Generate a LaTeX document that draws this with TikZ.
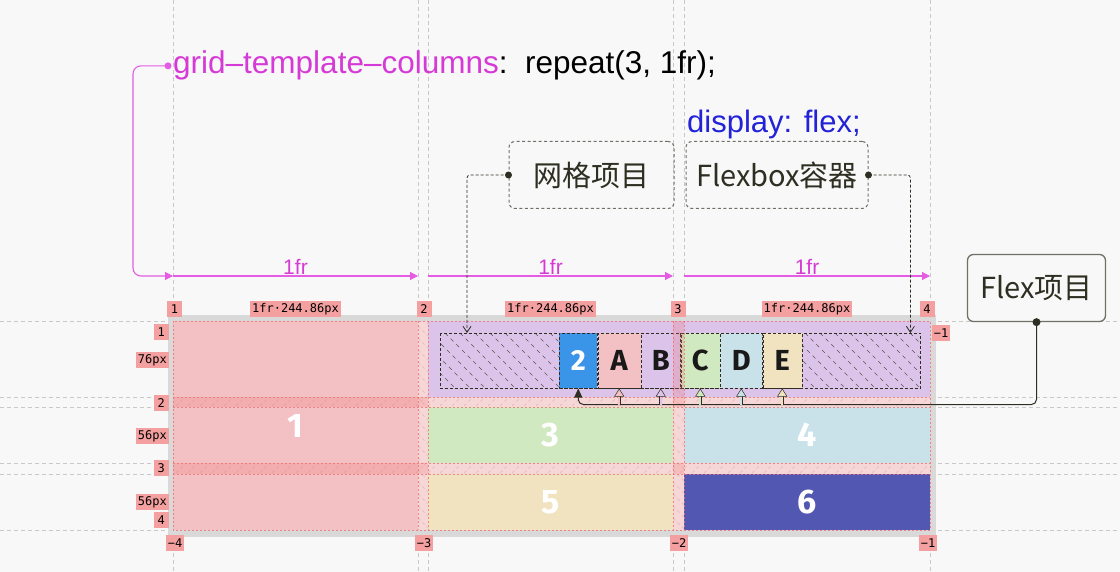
\documentclass[tikz,border=0pt]{standalone}
\usepackage{fontspec}
\usepackage{xcolor}
\usepackage{tikz}
\usetikzlibrary{arrows.meta,positioning,calc}
\setmainfont{Liberation Sans}
\newfontfamily\cjkfont{Noto Sans CJK SC}
\newfontfamily\numfont{Fira Sans}
\newfontfamily\monofont{DejaVu Sans Mono}
\definecolor{pagebg}{HTML}{F8F8F8}
\definecolor{guide}{HTML}{C8C8C8}
\definecolor{rim}{HTML}{D9D9D9}
\definecolor{itempink}{HTML}{F3C1C4}
\definecolor{itempurple}{HTML}{DCC3EA}
\definecolor{itemgreen}{HTML}{D0E9C0}
\definecolor{itemcyan}{HTML}{C9E2EA}
\definecolor{itembeige}{HTML}{F2E3C0}
\definecolor{itemindigo}{HTML}{5257B1}
\definecolor{flexblue}{HTML}{3A95E8}
\definecolor{tagpink}{HTML}{F4A0A0}
\definecolor{gapred}{HTML}{F07070}
\definecolor{propmagenta}{HTML}{D63AD6}
\definecolor{arrowmagenta}{HTML}{E35CE3}
\definecolor{cssblue}{HTML}{2222D8}
\definecolor{inkdark}{HTML}{2E2E22}
\definecolor{boxgray}{HTML}{707068}

\begin{document}
\begin{tikzpicture}[x=1pt, y=-1pt,
  guideline/.style={draw=guide, line width=0.6pt, dash pattern=on 4pt off 3pt},
  tag/.style={fill=tagpink, inner sep=2pt, minimum width=15pt, minimum height=16pt, text=black, font=\monofont\fontsize{12}{12}\selectfont},
  cell/.style={anchor=north west, inner sep=0pt, text=white, font=\numfont\bfseries\fontsize{34}{34}\selectfont},
  flexcell/.style={draw=inkdark, line width=0.5pt, densely dashed, inner sep=0pt, minimum width=#1, minimum height=55pt, text=black!90, font=\numfont\bfseries\fontsize{29}{29}\selectfont},
  flexhatch/.style={draw=inkdark!80, line width=0.6pt, dash pattern=on 4pt off 4pt},
  gapfill/.style={fill=gapred, opacity=0.24},
  gaphatch/.style={draw=gapred, line width=0.6pt, opacity=0.4, dash pattern=on 3pt off 3pt},
  gapline/.style={draw=gapred, line width=0.6pt, opacity=0.8, dash pattern=on 2pt off 2pt},
  magline/.style={draw=arrowmagenta, line width=1.1pt, -{Triangle[width=8pt,length=8pt]}},
  frlabel/.style={text=propmagenta, inner sep=1pt, font=\fontsize{21}{21}\selectfont},
  notebox/.style={draw=boxgray, line width=1pt, rounded corners=6pt, minimum height=67pt, text=inkdark, font=\cjkfont\fontsize{29}{29}\selectfont},
  dashlink/.style={draw=inkdark, line width=0.8pt, dash pattern=on 3pt off 2pt, rounded corners=3pt, -{Straight Barb[width=8pt,length=6pt]}},
  solidlink/.style={draw=inkdark, line width=1pt, rounded corners=5pt},
  pin/.style={fill=inkdark}]
  \fill[pagebg] (0,0) rectangle (1120,572);
  \useasboundingbox (0,0) rectangle (1120,572);
  \foreach \x in {173,418,428,673,684,930} \draw[guideline] (\x,0) -- (\x,572);
  \foreach \y in {321,397,407,463,474,530} \draw[guideline] (0,\y) -- (1120,\y);

  \fill[rim] (168,315) rectangle (936,537);
  \fill[pagebg] (173,321) rectangle (930,530);
  \node[cell, fill=itempink, minimum width=245pt, minimum height=209pt] (cell1) at (173,321) {1};
  \node[cell, fill=itempurple, minimum width=502pt, minimum height=76pt] (cell2) at (428,321) {};
  \node[cell, fill=itemgreen, minimum width=245pt, minimum height=56pt] (cell3) at (428,407) {3};
  \node[cell, fill=itemcyan, minimum width=246pt, minimum height=56pt] (cell4) at (684,407) {4};
  \node[cell, fill=itembeige, minimum width=245pt, minimum height=56pt] (cell5) at (428,474) {5};
  \node[cell, fill=itemindigo, minimum width=246pt, minimum height=56pt] (cell6) at (684,474) {6};

  \node[anchor=north west, inner sep=0pt, minimum width=480pt, minimum height=55pt] (fbox) at (440,333) {};
  \begin{scope}
    \clip (fbox.north west) rectangle (fbox.south east);
    \foreach \x in {370,385,...,925} \draw[flexhatch] (\x,333) -- ++(60,60);
  \end{scope}
  \draw[inkdark, line width=0.6pt, densely dashed] (fbox.north west) rectangle (fbox.south east);
  \node[flexcell=38pt, fill=flexblue, text=white, anchor=north west] (f2) at (559,333) {2};
  \node[flexcell=43pt, fill=itempink, right=0pt of f2] (fA) {A};
  \node[flexcell=39pt, fill=itempurple, right=0pt of fA] (fB) {B};
  \node[flexcell=39pt, fill=itemgreen, right=0pt of fB] (fC) {C};
  \node[flexcell=42pt, fill=itemcyan, right=0pt of fC] (fD) {D};
  \node[flexcell=39pt, fill=itembeige, right=0pt of fD] (fE) {E};

  \fill[gapfill] (418,321) rectangle (428,530);
  \fill[gapfill] (673,321) rectangle (684,530);
  \fill[gapfill] (173,397) rectangle (930,407);
  \fill[gapfill] (173,463) rectangle (930,474);
  \begin{scope}
    \clip (173,397) rectangle (930,407) (173,463) rectangle (930,474);
    \foreach \x in {160,172,...,940} {
      \draw[gaphatch] (\x,410) -- ++(14,-14);
      \draw[gaphatch] (\x,477) -- ++(14,-14);
    }
  \end{scope}
  \begin{scope}
    \clip (418,321) rectangle (428,530) (673,321) rectangle (684,530);
    \foreach \y in {310,322,...,540} {
      \draw[gaphatch] (414,\y) -- ++(16,16);
      \draw[gaphatch] (669,\y) -- ++(16,16);
    }
  \end{scope}
  \foreach \x in {418,428,673,684} \draw[gapline] (\x,321) -- (\x,530);
  \foreach \y in {397,407,463,474} \draw[gapline] (173,\y) -- (930,\y);
  \draw[gapline] (173,321) rectangle (930,530);

  \node[tag] (top1) at (174.5,309.5) {1};
  \node[tag] (topw1) at (295.5,309.5) {1fr·244.86px};
  \node[tag] (top2) at (424,309.5) {2};
  \node[tag] (topw2) at (550.5,309.5) {1fr·244.86px};
  \node[tag] (top3) at (678,309.5) {3};
  \node[tag] (topw3) at (807,309.5) {1fr·244.86px};
  \node[tag] (top4) at (927,309.5) {4};
  \node[tag, anchor=east] (left1) at (169,332) {1};
  \node[tag, anchor=east] (lefth1) at (169,360) {76px};
  \node[tag, anchor=east] (left2) at (169,403) {2};
  \node[tag, anchor=east] (lefth2) at (169,436) {56px};
  \node[tag, anchor=east] (left3) at (169,468) {3};
  \node[tag, anchor=east] (lefth3) at (169,502) {56px};
  \node[tag, anchor=east] (left4) at (169,520) {4};
  \node[tag] (bot4) at (175,543) {−4};
  \node[tag] (bot3) at (424,543) {−3};
  \node[tag] (bot2) at (679,543) {−2};
  \node[tag] (bot1) at (928,543) {−1};
  \node[tag] (right1) at (941,333) {−1};

  \coordinate (c1l) at (173,276);
  \coordinate (c1r) at (418,276);
  \coordinate (c2l) at (428,276);
  \coordinate (c2r) at (673,276);
  \coordinate (c3l) at (684,276);
  \coordinate (c3r) at (930,276);
  \draw[magline] (c1l) -- (c1r) node[midway, above, frlabel] {1fr};
  \draw[magline] (c2l) -- (c2r) node[midway, above, frlabel] {1fr};
  \draw[magline] (c3l) -- (c3r) node[midway, above, frlabel] {1fr};

  \node[anchor=base west, inner sep=0pt, font=\fontsize{31.5}{31.5}\selectfont] (gtc) at (173,74) {\textcolor{propmagenta}{grid–template–columns}:\ \ repeat(3, 1fr);};
  \fill[arrowmagenta] ([xshift=-5pt]gtc.west) circle (3.5pt);
  \draw[magline, rounded corners=8pt] ([xshift=-5pt]gtc.west) -- ++(-35,0) |- (c1l);

  \node[anchor=base west, inner sep=0pt, text=cssblue, font=\fontsize{31}{31}\selectfont] (disp) at (687,133) {display: flex;};
  \node[notebox, dash pattern=on 3pt off 2.5pt, minimum width=165pt] (gridnote) at (591.5,175) {网格项目};
  \node[notebox, dash pattern=on 3pt off 2.5pt, minimum width=182pt] (flexnote) at (777,175) {Flexbox容器};
  \node[notebox, line width=1.3pt, minimum width=138pt] (itemnote) at (1036.5,288) {Flex项目};

  \fill[pin] (gridnote.west) circle (3.5pt);
  \draw[dashlink] (gridnote.west) -| ([xshift=27pt]fbox.north west);
  \fill[pin] (flexnote.east) circle (3.5pt);
  \draw[dashlink] (flexnote.east) -| ([xshift=-10pt]fbox.north east);
  \fill[pin] (itemnote.south) circle (4pt);
  \draw[solidlink, -{Triangle[width=8pt,length=9pt]}] (itemnote.south) |- ([yshift=-16pt]f2.south) -- (f2.south);
  \foreach \n/\c in {fA/itempink, fB/itempurple, fC/itemgreen, fD/itemcyan, fE/itembeige}
    \draw[draw=inkdark, line width=0.5pt, double=\c, double distance=1.6pt, -{Triangle[width=10pt,length=8pt,fill=\c]}] ([yshift=-16pt]\n.south) -- (\n.south);
\end{tikzpicture}
\end{document}
